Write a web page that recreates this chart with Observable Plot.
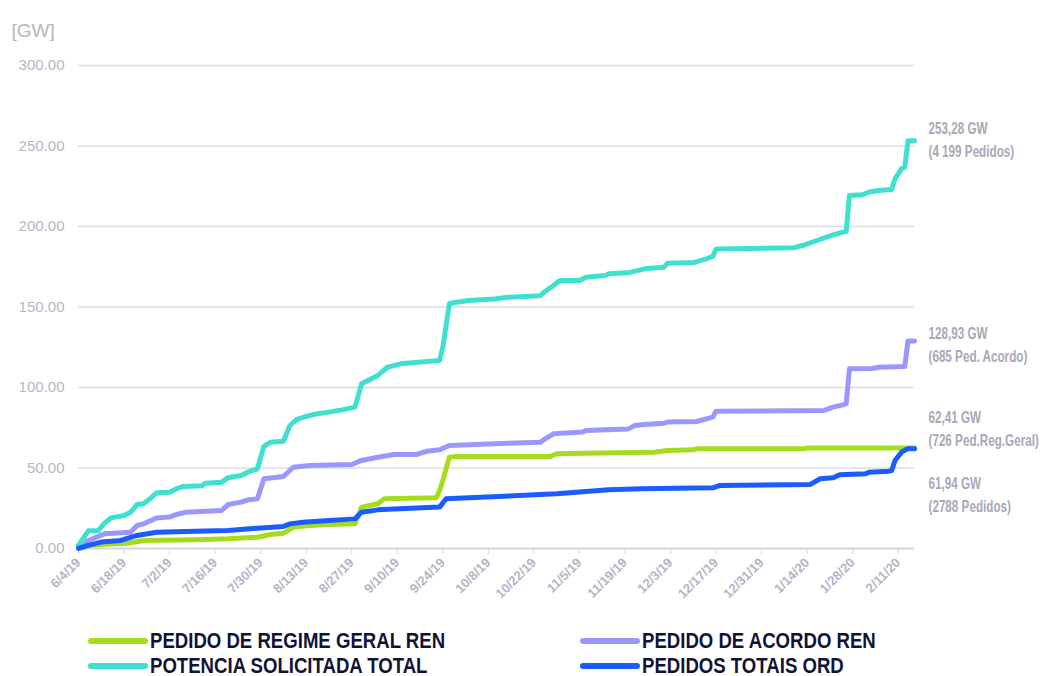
<!DOCTYPE html>
<html><head><meta charset="utf-8">
<script src="https://cdn.jsdelivr.net/npm/d3@7"></script>
<script src="https://cdn.jsdelivr.net/npm/@observablehq/plot@0.6"></script>
<style>
body{margin:0;background:#fff;}
#wrap{position:relative;width:1040px;height:676px;font-family:"Liberation Sans",Arial,sans-serif;}
.legend{position:absolute;left:0;top:615px;width:1040px;height:61px;}
.item{position:absolute;display:flex;align-items:center;height:22px;}
.sw{width:60px;height:6px;border-radius:3px;margin-right:2px;flex:none;}
.lab{display:inline-block;line-height:1;font-family:"Liberation Sans",Arial,sans-serif;font-weight:bold;font-size:22px;color:#121236;white-space:nowrap;transform:scaleX(0.845);transform-origin:0 50%;}
</style></head><body><div id="wrap"></div>
<script>
// ---- data ----
const seriesNames = ["PEDIDO DE REGIME GERAL REN", "PEDIDO DE ACORDO REN", "POTENCIA SOLICITADA TOTAL", "PEDIDOS TOTAIS ORD"];

const regimeGeral = [
 ["2019-06-04",0.8],["2019-06-09",2.3],["2019-06-19",3.3],["2019-06-24",5],["2019-07-10",5.4],["2019-07-20",6],
 ["2019-07-29",7],["2019-08-02",8.7],["2019-08-06",9.5],["2019-08-09",13.2],["2019-08-14",14.3],["2019-08-20",14.9],
 ["2019-08-28",15.3],["2019-08-30",25.7],["2019-09-04",27.8],["2019-09-06",30.9],["2019-09-22",31.5],["2019-09-23",36],
 ["2019-09-24",42.2],["2019-09-26",56.7],["2019-09-28",57.1],["2019-10-27",57.1],["2019-10-29",58.8],["2019-11-06",59.2],
 ["2019-11-28",59.8],["2019-12-02",60.9],["2019-12-10",61.3],["2019-12-11",61.9],["2020-01-13",61.9],["2020-01-14",62.41],
 ["2020-02-16",62.41]
];
const acordo = [
 ["2019-06-04",1.9],["2019-06-07",5],["2019-06-12",9.1],["2019-06-20",10.1],["2019-06-22",14.3],["2019-06-24",15.3],
 ["2019-06-28",19],["2019-07-02",19.5],["2019-07-04",21.1],["2019-07-07",22.5],["2019-07-18",23.6],["2019-07-20",27.3],
 ["2019-07-24",28.8],["2019-07-26",30.2],["2019-07-29",30.9],["2019-07-31",43.3],["2019-08-06",44.7],["2019-08-09",50.5],
 ["2019-08-14",51.6],["2019-08-27",52.2],["2019-08-30",54.7],["2019-09-04",56.7],["2019-09-09",58.4],["2019-09-16",58.4],
 ["2019-09-19",60.4],["2019-09-23",61.3],["2019-09-26",64],["2019-10-04",64.6],["2019-10-14",65.4],["2019-10-24",66],
 ["2019-10-25",67.5],["2019-10-28",71.2],["2019-11-06",72.3],["2019-11-07",73.3],["2019-11-20",74.3],["2019-11-22",76.4],
 ["2019-11-25",77],["2019-12-01",77.8],["2019-12-02",78.5],["2019-12-11",78.9],["2019-12-14",80.5],["2019-12-16",81.6],
 ["2019-12-17",85.3],["2020-01-19",85.7],["2020-01-22",87.8],["2020-01-25",89.2],["2020-01-26",89.9],["2020-01-27",111.6],
 ["2020-02-03",111.8],["2020-02-05",112.6],["2020-02-13",113],["2020-02-14",128.93],["2020-02-16",128.93]
];
const potenciaTotal = [
 ["2019-06-04",2],["2019-06-07",11],["2019-06-10",11],["2019-06-12",15.7],["2019-06-14",19],["2019-06-18",20.5],
 ["2019-06-20",22.5],["2019-06-22",27.3],["2019-06-24",27.8],["2019-06-26",31],["2019-06-28",34.6],["2019-07-02",35],
 ["2019-07-04",37],["2019-07-06",38.5],["2019-07-12",39],["2019-07-13",40.6],["2019-07-18",41.2],["2019-07-20",44],
 ["2019-07-24",45.3],["2019-07-26",47.4],["2019-07-29",49.5],["2019-07-31",63.4],["2019-08-02",66],["2019-08-06",66.6],
 ["2019-08-08",76.4],["2019-08-10",80],["2019-08-13",82],["2019-08-16",83.6],["2019-08-20",84.7],["2019-08-24",86.1],
 ["2019-08-28",87.8],["2019-08-30",102.3],["2019-09-01",104.3],["2019-09-04",107.5],["2019-09-07",112.6],["2019-09-11",114.7],
 ["2019-09-20",116.3],["2019-09-23",116.8],["2019-09-24",125],["2019-09-26",152],["2019-09-28",153],["2019-10-02",154],
 ["2019-10-10",155],["2019-10-14",156],["2019-10-24",157],["2019-10-25",159],["2019-10-28",163.4],["2019-10-30",166.5],
 ["2019-11-05",166.5],["2019-11-07",168.5],["2019-11-13",169.6],["2019-11-14",170.6],["2019-11-20",171.2],["2019-11-25",173.7],
 ["2019-12-01",174.7],["2019-12-02",177.2],["2019-12-10",177.6],["2019-12-14",179.9],["2019-12-16",181.4],["2019-12-17",186.1],
 ["2020-01-10",186.8],["2020-01-13",188.5],["2020-01-17",191.3],["2020-01-20",193.4],["2020-01-22",194.8],["2020-01-25",196.5],
 ["2020-01-26",196.9],["2020-01-27",219.3],["2020-01-31",219.7],["2020-02-02",221.4],["2020-02-05",222.4],["2020-02-09",223],
 ["2020-02-10",229.6],["2020-02-12",235.8],["2020-02-13",236.8],["2020-02-14",253.28],["2020-02-16",253.28]
];
const totaisOrd = [
 ["2019-06-04",0],["2019-06-07",1.9],["2019-06-11",4],["2019-06-17",5],["2019-06-22",8.1],["2019-06-28",10.1],
 ["2019-07-10",10.7],["2019-07-20",11.2],["2019-07-30",12.8],["2019-08-06",13.7],["2019-08-08",15.3],["2019-08-12",16.3],
 ["2019-08-20",17.4],["2019-08-28",18.4],["2019-08-30",22.5],["2019-09-04",24],["2019-09-09",24.6],["2019-09-23",25.7],
 ["2019-09-25",30.9],["2019-10-11",32.3],["2019-10-29",34],["2019-11-14",36.5],["2019-11-24",37.1],["2019-12-16",37.7],
 ["2019-12-18",39.1],["2020-01-15",39.8],["2020-01-18",43.3],["2020-01-22",43.9],["2020-01-24",45.8],["2020-02-01",46.4],
 ["2020-02-02",47.4],["2020-02-08",48],["2020-02-09",48.4],["2020-02-10",54.7],["2020-02-12",59.8],["2020-02-13",61],
 ["2020-02-14",61.94],["2020-02-16",61.94]
];
const seriesColors = ["#a6dc1f", "#9a98ff", "#40e0d0", "#1a5cff"];

const xTicks = ["2019-06-04","2019-06-18","2019-07-02","2019-07-16","2019-07-30","2019-08-13","2019-08-27","2019-09-10",
 "2019-09-24","2019-10-08","2019-10-22","2019-11-05","2019-11-19","2019-12-03","2019-12-17","2019-12-31","2020-01-14",
 "2020-01-28","2020-02-11"];
const yTicks = [0, 50, 100, 150, 200, 250, 300];
const xDomain = ["2019-06-04", "2020-02-16"];

const annotationSeries = ["POTENCIA SOLICITADA TOTAL", "PEDIDO DE ACORDO REN", "PEDIDO DE REGIME GERAL REN", "PEDIDOS TOTAIS ORD"];
const annotationLabels = ["253,28 GW\n(4 199 Pedidos)", "128,93 GW\n(685 Ped. Acordo)", "62,41 GW\n(726 Ped.Reg.Geral)", "61,94 GW\n(2788 Pedidos)"];

// ---- build ----
const parse = d3.utcParse("%Y-%m-%d");
const allSeries = [regimeGeral, acordo, potenciaTotal, totaisOrd];
const rows = allSeries.flatMap((s, i) => s.map(([d, v]) => ({series: seriesNames[i], date: parse(d), value: v})));

const annotationDy = [-3, 2, -21, 44];
const annotationMarks = annotationSeries.map((name, i) => {
  const s = allSeries[seriesNames.indexOf(name)];
  const last = s[s.length - 1];
  return Plot.text([{date: parse(last[0]), value: last[1], label: annotationLabels[i]}], {
    x: "date", y: "value", text: "label", dx: 14, dy: annotationDy[i],
    textAnchor: "start", lineAnchor: "middle", lineHeight: 1.45,
    fontSize: 16, fontWeight: "bold", fill: "#a8a8b7",
    fontFamily: "'Liberation Sans', Arial, sans-serif"
  });
});

const chart = Plot.plot({
  width: 1040, height: 615,
  marginTop: 65, marginBottom: 67, marginLeft: 78, marginRight: 126,
  style: {fontFamily: "'Liberation Sans', Arial, sans-serif", background: "#fff", overflow: "visible"},
  x: {type: "utc", domain: xDomain.map(parse)},
  y: {domain: [0, 300]},
  color: {domain: seriesNames, range: seriesColors},
  marks: [
    Plot.ruleY(yTicks.filter(d => d > 0), {stroke: "#dcdcdc", strokeWidth: 1.3}),
    Plot.ruleY([0], {stroke: "#d6d6d6", strokeWidth: 2}),
    Plot.axisY(yTicks, {tickSize: 0, tickPadding: 14, tickFormat: d3.format(".2f"), fill: "#b6b6c6", fontSize: 15, label: null}),
    Plot.axisX(xTicks.map(parse), {tickFormat: d3.utcFormat("%-m/%-d/%y"), tickRotate: -45, tickSize: 6, stroke: "#d6d6d6",
      fill: "#b4b4c8", fontSize: 13, fontWeight: "bold", label: null}),
    Plot.line(rows, {x: "date", y: "value", z: "series", stroke: "series", strokeWidth: 5,
      strokeLinecap: "round", strokeLinejoin: "round"}),
    ...annotationMarks,
    Plot.text(["[GW]"], {text: d => d, frameAnchor: "top-left", dx: -67, dy: -42, textAnchor: "start",
      fontSize: 19, fill: "#b4b4c4"})
  ]
});

// condense the annotation texts horizontally (narrow bold look)
chart.querySelectorAll("text").forEach(t => {
  if (!/GW|Pedidos|Ped\./.test(t.textContent) || t.textContent === "[GW]") return;
  const tr = t.getAttribute("transform");
  if (tr) {
    t.setAttribute("transform", tr + " scale(0.73,1)");
  } else {
    const x = +t.getAttribute("x") || 0, y = +t.getAttribute("y") || 0;
    t.removeAttribute("x"); t.removeAttribute("y");
    t.setAttribute("transform", `translate(${x},${y}) scale(0.73,1)`);
  }
});

const wrap = document.getElementById("wrap");
wrap.appendChild(chart);

const legend = document.createElement("div");
legend.className = "legend";
const legendPos = [[88, 15], [580, 15], [88, 40], [580, 40]];
seriesNames.forEach((name, i) => {
  const it = document.createElement("div");
  it.className = "item";
  it.style.left = legendPos[i][0] + "px";
  it.style.top = legendPos[i][1] + "px";
  const sw = document.createElement("div");
  sw.className = "sw";
  sw.style.background = seriesColors[i];
  const lab = document.createElement("span");
  lab.className = "lab";
  lab.textContent = name;
  it.appendChild(sw); it.appendChild(lab);
  legend.appendChild(it);
});
wrap.appendChild(legend);
</script></body></html>
